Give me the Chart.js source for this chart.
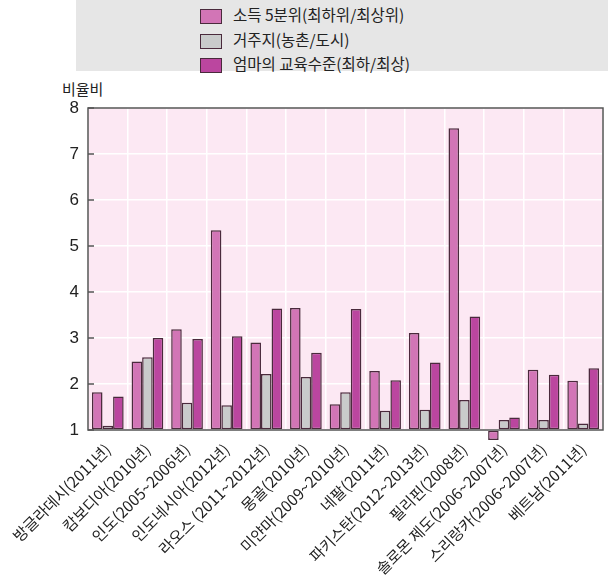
<!DOCTYPE html>
<html>
<head>
<meta charset="utf-8">
<script src="https://cdn.jsdelivr.net/npm/chart.js@4"></script>
<style>
  body { margin: 0; background: #fff; font-family: "Noto Sans CJK KR", sans-serif; }
  #wrap { position: relative; width: 608px; height: 587px; }
  #legendBox { position: absolute; left: 76px; top: 0; width: 532px; height: 71px; background: #e6e6e6; }
  .item { position: absolute; left: 124px; height: 22px; font-size: 15.5px; color: #222; line-height: 22px; }
  .item span { display: inline-block; width: 22px; height: 15px; border: 1.5px solid #4a2a3c; vertical-align: middle; margin-right: 11px; box-sizing: border-box; }
  #yTitle { position: absolute; left: 62px; top: 78px; font-size: 15px; color: #222; }
  canvas { position: absolute; left: 0; top: 0; }
</style>
</head>
<body>
<div id="wrap">
  <div id="legendBox"></div>
  <div id="yTitle">비율비</div>
  <canvas id="chart" width="608" height="587"></canvas>
</div>
<script>
const categories = ['방글라데시(2011년)', '캄보디아(2010년)', '인도(2005~2006년)', '인도네시아(2012년)',
  '라오스 (2011~2012년)', '몽골(2010년)', '미얀마(2009~2010년)', '네팔(2011년)', '파키스탄(2012~2013년)',
  '필리핀(2008년)', '솔로몬 제도(2006~2007년)', '스리랑카(2006~2007년)', '베트남(2011년)'];
const seriesNames = ['소득 5분위(최하위/최상위)', '거주지(농촌/도시)', '엄마의 교육수준(최하/최상)'];
const incomeRatio = [1.82, 2.49, 3.19, 5.34, 2.90, 3.65, 1.56, 2.28, 3.11, 7.56, 0.78, 2.31, 2.07];
const residenceRatio = [1.09, 2.58, 1.59, 1.54, 2.22, 2.15, 1.82, 1.42, 1.44, 1.65, 1.22, 1.22, 1.14];
const motherEduRatio = [1.73, 3.00, 2.98, 3.04, 3.64, 2.68, 3.63, 2.08, 2.47, 3.47, 1.27, 2.20, 2.34];
const colors = ['#d275b6', '#c9cbcb', '#bb469f'];

// legend drawn as html
const legendBox = document.getElementById('legendBox');
seriesNames.forEach((name, i) => {
  const div = document.createElement('div');
  div.className = 'item';
  div.style.top = (3 + i * 24.5) + 'px';
  div.innerHTML = `<span style="background:${colors[i]}"></span>${name}`;
  legendBox.appendChild(div);
});

const plotBackground = {
  id: 'plotBackground',
  beforeDraw(chart) {
    const { ctx, chartArea: a } = chart;
    ctx.save();
    ctx.fillStyle = '#fce8f3';
    ctx.fillRect(a.left, a.top, a.right - a.left, a.bottom - a.top);
    ctx.restore();
  },
  afterDatasetsDraw(chart) {
    const { ctx, chartArea: a } = chart;
    ctx.save();
    ctx.strokeStyle = '#555';
    ctx.lineWidth = 1.5;
    ctx.strokeRect(a.left, a.top, a.right - a.left, a.bottom - a.top);
    // small inward ticks on the y axis
    const y = chart.scales.y;
    y.ticks.forEach(t => {
      const py = y.getPixelForValue(t.value);
      ctx.beginPath();
      ctx.moveTo(a.left, py);
      ctx.lineTo(a.left + 6, py);
      ctx.stroke();
    });
    ctx.restore();
  }
};

const datasets = [incomeRatio, residenceRatio, motherEduRatio].map((d, i) => ({
  label: seriesNames[i],
  data: d,
  base: 1,
  backgroundColor: colors[i],
  borderColor: '#4a2a3c',
  borderWidth: 1.5,
  borderSkipped: false,
  clip: false
}));

new Chart(document.getElementById('chart'), {
  type: 'bar',
  data: { labels: categories, datasets },
  options: {
    responsive: false,
    animation: false,
    layout: { padding: { top: 108, right: 5, left: 0, bottom: 0 } },
    plugins: { legend: { display: false }, tooltip: { enabled: false } },
    datasets: { bar: { categoryPercentage: 0.8, barPercentage: 1 } },
    scales: {
      x: {
        grid: { color: '#ffffff', lineWidth: 1.5, drawTicks: false },
        border: { display: false },
        ticks: {
          color: '#222',
          font: { family: 'Noto Sans CJK KR', size: 15.5 },
          minRotation: 45, maxRotation: 45, padding: 10, autoSkip: false
        },
        afterFit(scale) { scale.height = 157; }
      },
      y: {
        min: 1, max: 8,
        grid: { color: '#ffffff', lineWidth: 1.5, drawTicks: false },
        border: { display: false },
        ticks: {
          stepSize: 1, color: '#222', padding: 9,
          font: { family: 'Liberation Sans', size: 17 }
        },
        afterFit(scale) { scale.width = 88; }
      }
    }
  },
  plugins: [plotBackground]
});
</script>
</body>
</html>
